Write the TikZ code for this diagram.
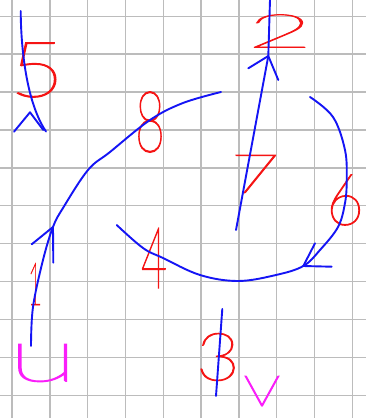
\documentclass[tikz,border=0pt]{standalone}
\usepackage{fontspec}
\IfFontExistsTF{Lato Thin}{\newfontfamily\hand[FakeBold=1.5]{Lato Thin}}{%
  \IfFontExistsTF{Lato Light}{\newfontfamily\hand{Lato Light}}{%
   \IfFontExistsTF{Fira Sans Light}{\newfontfamily\hand{Fira Sans Light}}{\newfontfamily\hand{Fira Sans}}}}
\newcommand\hw[3]{\resizebox{#1pt}{#2pt}{\hand #3}}
\begin{document}
\begin{tikzpicture}[x=1pt,y=-1pt,
  gridline/.style={draw={rgb,255:red,188;green,188;blue,188}, line width=1.4pt},
  edge/.style={draw={rgb,255:red,20;green,20;blue,245}, line width=1.9pt, line cap=round, line join=round},
  lbl/.style={text={rgb,255:red,245;green,20;blue,20}, inner sep=0pt, outer sep=0pt},
  vlbl/.style={text={rgb,255:red,250;green,30;blue,250}, inner sep=0pt, outer sep=0pt}]
\useasboundingbox (0,0) rectangle (366,418);
\fill[white] (0,0) rectangle (366,418);
\foreach \i in {0,...,9} \draw[gridline] ({12+37.8*\i},0) -- ({12+37.8*\i},418);
\foreach \j in {0,...,10} \draw[gridline] (0,{16.2+37.9*\j}) -- (366,{16.2+37.9*\j});

% labels
\node[vlbl] (u) at (43,363) {\hw{70}{37}{u}};
\node[vlbl] (v) at (262,391) {\hw{38}{30}{v}};
\node[lbl] (l5) at (37,70) {\hw{55}{54}{5}};
\node[lbl] (l8) at (150,122) {\hw{30}{60}{8}};
\node[lbl] (l2) at (280,31) {\hw{66}{33}{2}};
\node[lbl] (l7) at (255,174) {\hw{50}{38}{7}};
\node[lbl] (l6) at (345,200) {\hw{38}{50}{6}};
\node[lbl] (l4) at (154,258) {\hw{26}{60}{4}};
\node[lbl] (l1) at (35,284) {\hw{14}{42}{1}};
\node[lbl] (l3) at (218,357) {\hw{44}{47}{3}};

% coordinates
\coordinate (a5) at (20.7,11);
\coordinate (b5) at (46,131.5);
\coordinate (t5) at (30,112.3);
\coordinate (s8) at (221,92);
\coordinate (e8) at (31,346);
\coordinate (t8) at (53,227);
\coordinate (a7) at (270,0);
\coordinate (t7) at (268.3,56);
\coordinate (b7) at (236,230);
\coordinate (s6) at (310,97);
\coordinate (t6) at (303.3,266);
\coordinate (e6) at (116.7,225);
\coordinate (a3) at (222.3,309);
\coordinate (b3) at (216,396);

% edge 5
\draw[edge] (a5) .. controls (21,55) and (28,105) .. (b5);
\draw[edge] (14,131.7) -- (t5) -- (43.3,130);
% edge 8 / 1
\draw[edge] plot[smooth, tension=0.6] coordinates {(s8) (183,103) (150,120) (110,152) (88,170) (63,208) (t8) (43,260) (33,307) (e8)};
\draw[edge] (31.7,244.3) -- (t8) -- (53.3,262.7);
% edge 2 / 7
\draw[edge] (a7) -- (t7) -- (b7);
\draw[edge] (248.3,68.3) -- (t7) -- (278.3,80);
% edge 6 / 4
\draw[edge] plot[smooth, tension=0.6] coordinates {(s6) (333,117) (345,150) (346.7,180) (345,203) (338,227) (320,250) (t6) (276,275) (238,281) (200,275) (163,258) (143,248) (e6)};
\draw[edge] (315,243.3) -- (t6) -- (331.7,266.7);
% edge 3
\draw[edge] (a3) -- (b3);
\end{tikzpicture}
\end{document}
